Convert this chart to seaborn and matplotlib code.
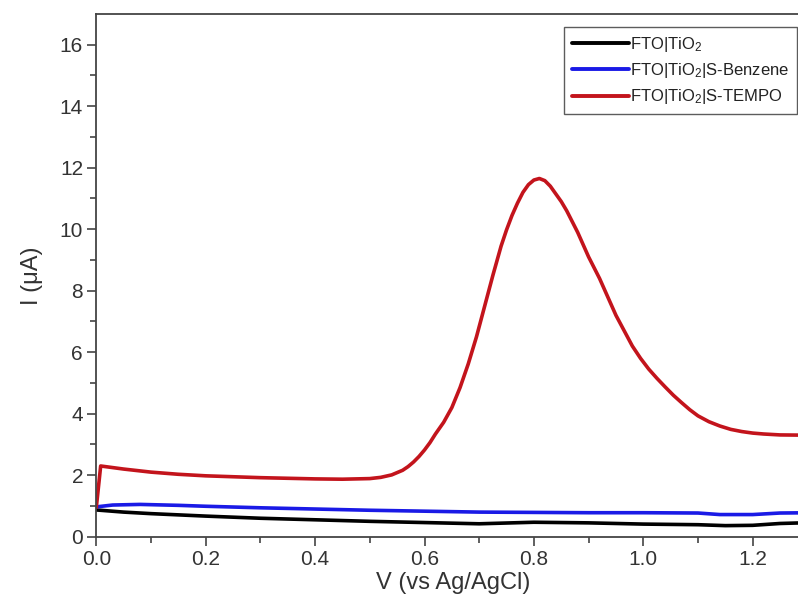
import numpy as np
import pandas as pd
import matplotlib
matplotlib.use("Agg")
import matplotlib.pyplot as plt
import seaborn as sns

# Linear sweep voltammetry curves (current in µA vs potential in V vs Ag/AgCl)
v_tio2 = [0.0, 0.05, 0.1, 0.2, 0.3, 0.4, 0.5, 0.6, 0.7, 0.8, 0.9, 1.0, 1.1, 1.15, 1.2, 1.25, 1.31]
i_tio2 = [0.87, 0.80, 0.75, 0.67, 0.60, 0.55, 0.50, 0.46, 0.42, 0.47, 0.45, 0.41, 0.39, 0.36, 0.37, 0.43, 0.46]

v_benz = [0.0, 0.03, 0.08, 0.15, 0.2, 0.3, 0.4, 0.5, 0.6, 0.7, 0.8, 0.9, 1.0, 1.1, 1.14, 1.2, 1.25, 1.31]
i_benz = [0.97, 1.03, 1.05, 1.02, 0.99, 0.94, 0.90, 0.86, 0.83, 0.80, 0.79, 0.78, 0.78, 0.77, 0.72, 0.72, 0.77, 0.78]

v_tempo = [0.0, 0.008, 0.05, 0.1, 0.15, 0.2, 0.25, 0.3, 0.35, 0.4, 0.45, 0.50,
           0.52, 0.54, 0.56, 0.57, 0.58, 0.59, 0.60, 0.61, 0.62, 0.635, 0.65, 0.665,
           0.68, 0.695, 0.71, 0.725, 0.74, 0.75, 0.76, 0.77, 0.78, 0.79, 0.80, 0.81,
           0.82, 0.83, 0.84, 0.85, 0.86, 0.87, 0.88, 0.89, 0.90, 0.91, 0.92, 0.935,
           0.95, 0.965, 0.98, 0.995, 1.01, 1.025, 1.04, 1.055, 1.07, 1.085, 1.10,
           1.12, 1.14, 1.16, 1.18, 1.20, 1.22, 1.25, 1.31]
i_tempo = [0.95, 2.30, 2.20, 2.10, 2.03, 1.98, 1.95, 1.92, 1.90, 1.88, 1.87, 1.89,
           1.93, 2.01, 2.16, 2.28, 2.43, 2.61, 2.82, 3.06, 3.34, 3.72, 4.20, 4.85,
           5.62, 6.50, 7.50, 8.50, 9.45, 9.98, 10.45, 10.85, 11.20, 11.45, 11.60, 11.65,
           11.58, 11.40, 11.15, 10.90, 10.60, 10.25, 9.90, 9.50, 9.10, 8.75, 8.40, 7.80,
           7.20, 6.70, 6.20, 5.80, 5.45, 5.15, 4.87, 4.60, 4.36, 4.13, 3.93,
           3.74, 3.60, 3.49, 3.42, 3.37, 3.34, 3.31, 3.30]

labels = ["FTO|TiO$_2$", "FTO|TiO$_2$|S-Benzene", "FTO|TiO$_2$|S-TEMPO"]
colors = ["#000000", "#1a1ae6", "#c3141c"]

df = pd.concat([
    pd.DataFrame({"V": v_tio2, "I": i_tio2, "sample": labels[0]}),
    pd.DataFrame({"V": v_benz, "I": i_benz, "sample": labels[1]}),
    pd.DataFrame({"V": v_tempo, "I": i_tempo, "sample": labels[2]}),
], ignore_index=True)

sns.set_style("ticks")
plt.rcParams["font.family"] = ["Liberation Sans", "DejaVu Sans"]
plt.rcParams["mathtext.default"] = "regular"

fig = plt.figure(figsize=(7.98, 6.06), dpi=100)
W, H = 798, 606
x0, x1, ytop, ybot = 96.3, 810, 14, 536.7
ax = fig.add_axes([x0 / W, (H - ybot) / H, (x1 - x0) / W, (ybot - ytop) / H])

sns.lineplot(data=df, x="V", y="I", hue="sample", palette=dict(zip(labels, colors)),
             sort=False, estimator=None, linewidth=2.6, ax=ax)
for line in ax.get_lines():
    line.set_solid_joinstyle("round")
    line.set_solid_capstyle("round")

ax.set_xlim(0, (x1 - x0) / 547.0)
ax.set_ylim(0, 17)
ax.set_xticks(np.arange(0, 1.21, 0.2))
ax.set_xticks(np.arange(0.1, 1.31, 0.2), minor=True)
ax.set_yticks(np.arange(0, 17, 2))
ax.set_yticks(np.arange(1, 17, 2), minor=True)
ax.xaxis.set_major_formatter(matplotlib.ticker.FormatStrFormatter("%.1f"))

spine_col = "#444444"
for s in ax.spines.values():
    s.set_color(spine_col)
    s.set_linewidth(1.3)
ax.spines["right"].set_visible(False)
ax.tick_params(which="major", direction="out", length=6.5, width=1.2, color=spine_col,
               labelsize=15, labelcolor="#333333", pad=3)
ax.tick_params(which="minor", direction="out", length=4, width=1.2, color=spine_col)

ax.set_xlabel("V (vs Ag/AgCl)", fontsize=17, color="#333333", labelpad=2)
ax.set_ylabel("I (μA)", fontsize=17, color="#333333", labelpad=12)

handles, labs = ax.get_legend_handles_labels()
leg = ax.legend(handles, labs, loc="upper right", bbox_to_anchor=(797 / W, 1 - 27 / H),
                bbox_transform=fig.transFigure, borderaxespad=0, fontsize=12,
                frameon=True, fancybox=False, handlelength=3.4, handletextpad=0.1,
                labelspacing=0.45, borderpad=0.45)
leg.get_frame().set_edgecolor("#333333")
leg.get_frame().set_linewidth(1.0)
for line in leg.get_lines():
    line.set_linewidth(2.8)
for t in leg.get_texts():
    t.set_color("#222222")

fig.savefig("out.png", dpi=100)
